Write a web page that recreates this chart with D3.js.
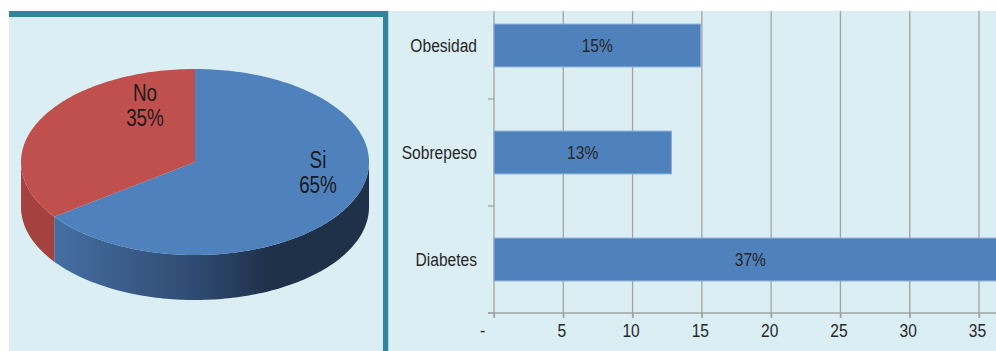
<!DOCTYPE html>
<html lang="es">
  <head>
    <meta charset="UTF-8">
    <title>Pie + bar</title>
    <style>
      body { margin: 0; background: #fff; }
      svg { display: block; }
      text { font-family: 'Liberation Sans', Arial, sans-serif; fill: #262626; }
    </style>
  </head>
  <body>
    <div id="chart"></div>
    <script src="https://d3js.org/d3.v7.min.js"></script>
    <script>
      // pie data
      const pieLabels = ['Si', 'No'];
      const pieValues = [65, 35];
      const pieColors = ['#4f81bd', '#c0504d'];

      // bar data
      const categories = ['Obesidad', 'Sobrepeso', 'Diabetes'];
      const barValues = [14.9, 12.8, 37];
      const tickValues = [0, 5, 10, 15, 20, 25, 30, 35];

      const W = 996, H = 351;
      const bg = '#dbeef4', teal = '#31849b';
      const narrow = 'scale(0.82,1)'; // fake Arial Narrow

      const svg = d3.select('#chart').append('svg')
        .attr('width', W).attr('height', H);

      const defs = svg.append('defs');

      // panels
      svg.append('rect').attr('x', 9).attr('y', 11).attr('width', 379).attr('height', H - 11).attr('fill', bg);
      svg.append('rect').attr('x', 389).attr('y', 11).attr('width', W - 389).attr('height', H - 11).attr('fill', bg);
      svg.append('rect').attr('x', 9).attr('y', 11).attr('width', 379).attr('height', 6).attr('fill', teal);
      svg.append('rect').attr('x', 383).attr('y', 11).attr('width', 5).attr('height', H - 11).attr('fill', teal);
      svg.append('rect').attr('x', 388).attr('y', 11).attr('width', 1).attr('height', H - 11).attr('fill', '#b3d8e3');

      // ---- 3D pie ----
      const cx = 195, cy = 162, rx = 174, ry = 93, depth = 45;
      const pt = (a, dy) => [cx + rx * Math.sin(a), cy - ry * Math.cos(a) + (dy || 0)];
      const sample = (a0, a1) => {
        const n = Math.max(2, Math.ceil(Math.abs(a1 - a0) / 0.02));
        return d3.range(n + 1).map(i => a0 + (a1 - a0) * i / n);
      };

      const arcs = d3.pie().sort(null).value(d => d)(pieValues);

      const grad = defs.append('linearGradient').attr('id', 'side-blue')
        .attr('gradientUnits', 'userSpaceOnUse')
        .attr('x1', cx - rx).attr('x2', cx + rx).attr('y1', 0).attr('y2', 0);
      grad.append('stop').attr('offset', 0).attr('stop-color', '#4a77ae');
      grad.append('stop').attr('offset', 0.5).attr('stop-color', '#2f4b71');
      grad.append('stop').attr('offset', 0.72).attr('stop-color', '#1f3049');
      grad.append('stop').attr('offset', 1).attr('stop-color', '#1f3049');
      const sideFill = ['url(#side-blue)', '#a5423f'];

      const line = d3.line();
      const pieG = svg.append('g');

      // side walls (front half only)
      arcs.forEach((a, i) => {
        const a0 = Math.max(a.startAngle, Math.PI / 2);
        const a1 = Math.min(a.endAngle, 3 * Math.PI / 2);
        if (a1 <= a0) return;
        const top = sample(a0, a1).map(t => pt(t, 0));
        const bot = sample(a1, a0).map(t => pt(t, depth));
        pieG.append('path').attr('d', line(top.concat(bot)) + 'Z').attr('fill', sideFill[i]);
      });

      // top faces
      arcs.forEach((a, i) => {
        const pts = [[cx, cy]].concat(sample(a.startAngle, a.endAngle).map(t => pt(t, 0)));
        pieG.append('path').attr('d', line(pts) + 'Z').attr('fill', pieColors[i]);
      });

      // labels
      const labelPos = { Si: [318, 160], No: [145, 93] };
      arcs.forEach((a, i) => {
        const p = labelPos[pieLabels[i]];
        const t = pieG.append('text').attr('text-anchor', 'middle')
          .attr('transform', `translate(${p[0]},${p[1]}) ${narrow}`)
          .style('font-size', '23px').style('fill', '#1a1a1a');
        t.append('tspan').attr('x', 0).attr('dy', '0.35em').text(pieLabels[i]);
        t.append('tspan').attr('x', 0).attr('dy', '1.1em').text(a.data + '%');
      });

      // ---- bar chart ----
      const x = d3.scaleLinear().domain([0, 35]).range([494, 979]);
      const y = d3.scaleBand().domain(categories).range([-8, 313])
        .paddingInner(0.6).paddingOuter(0.3);

      defs.append('clipPath').attr('id', 'clip-bar').append('rect')
        .attr('x', 389).attr('y', 11).attr('width', W - 389).attr('height', H - 11);

      const barG = svg.append('g').attr('clip-path', 'url(#clip-bar)');
      const gridColor = '#a3a3a3';

      // gridlines
      barG.selectAll('line.grid').data(tickValues.slice(1)).join('line')
        .attr('x1', d => x(d)).attr('x2', d => x(d))
        .attr('y1', 11).attr('y2', 318)
        .attr('stroke', gridColor).attr('stroke-width', 1.3);

      // x axis
      const xAxis = d3.axisBottom(x).tickValues(tickValues).tickSize(5)
        .tickFormat(d => d === 0 ? '-' : d);
      const gx = barG.append('g').attr('transform', 'translate(0,313)').call(xAxis);
      gx.select('.domain').remove();
      barG.append('line').attr('x1', 488).attr('x2', W).attr('y1', 313).attr('y2', 313)
        .attr('stroke', gridColor).attr('stroke-width', 1.3);
      gx.selectAll('.tick line').attr('stroke', gridColor).attr('stroke-width', 1.3);
      gx.selectAll('.tick text')
        .attr('y', 0).attr('dy', '0.35em')
        .attr('transform', d => `translate(${d === 0 ? -12 : -2},11) ${narrow} translate(0,0)`)
        .attr('dy', '0.71em')
        .style('font-size', '19px').style('fill', '#262626')
        .attr('font-family', null);

      // y axis
      const step = y.step();
      const bounds = categories.map(c => y(c) - y.paddingInner() * step / 2 + step);
      barG.append('line').attr('x1', 494).attr('x2', 494).attr('y1', 11).attr('y2', 318)
        .attr('stroke', gridColor).attr('stroke-width', 1.3);
      barG.selectAll('line.ytick').data(bounds).join('line')
        .attr('x1', 488).attr('x2', 494).attr('y1', d => d).attr('y2', d => d)
        .attr('stroke', gridColor).attr('stroke-width', 1.3);

      // bars
      barG.selectAll('rect.bar').data(barValues).join('rect')
        .attr('x', x(0)).attr('y', (d, i) => y(categories[i]))
        .attr('width', d => x(d) - x(0)).attr('height', y.bandwidth())
        .attr('fill', '#4f81bd').attr('stroke', '#86a8d6').attr('stroke-width', 1);

      // bar labels
      barG.selectAll('text.val').data(barValues).join('text')
        .attr('transform', (d, i) =>
          `translate(${(x(0) + x(d)) / 2},${y(categories[i]) + y.bandwidth() / 2}) ${narrow}`)
        .attr('dy', '0.35em').attr('text-anchor', 'middle')
        .style('font-size', '19px')
        .text(d => d3.format('.0f')(d) + '%');

      // category labels
      svg.selectAll('text.cat').data(categories).join('text')
        .attr('transform', d => `translate(477,${y(d) + y.bandwidth() / 2}) ${narrow}`)
        .attr('dy', '0.35em').attr('text-anchor', 'end')
        .style('font-size', '19px')
        .text(d => d);
    </script>
  </body>
</html>
